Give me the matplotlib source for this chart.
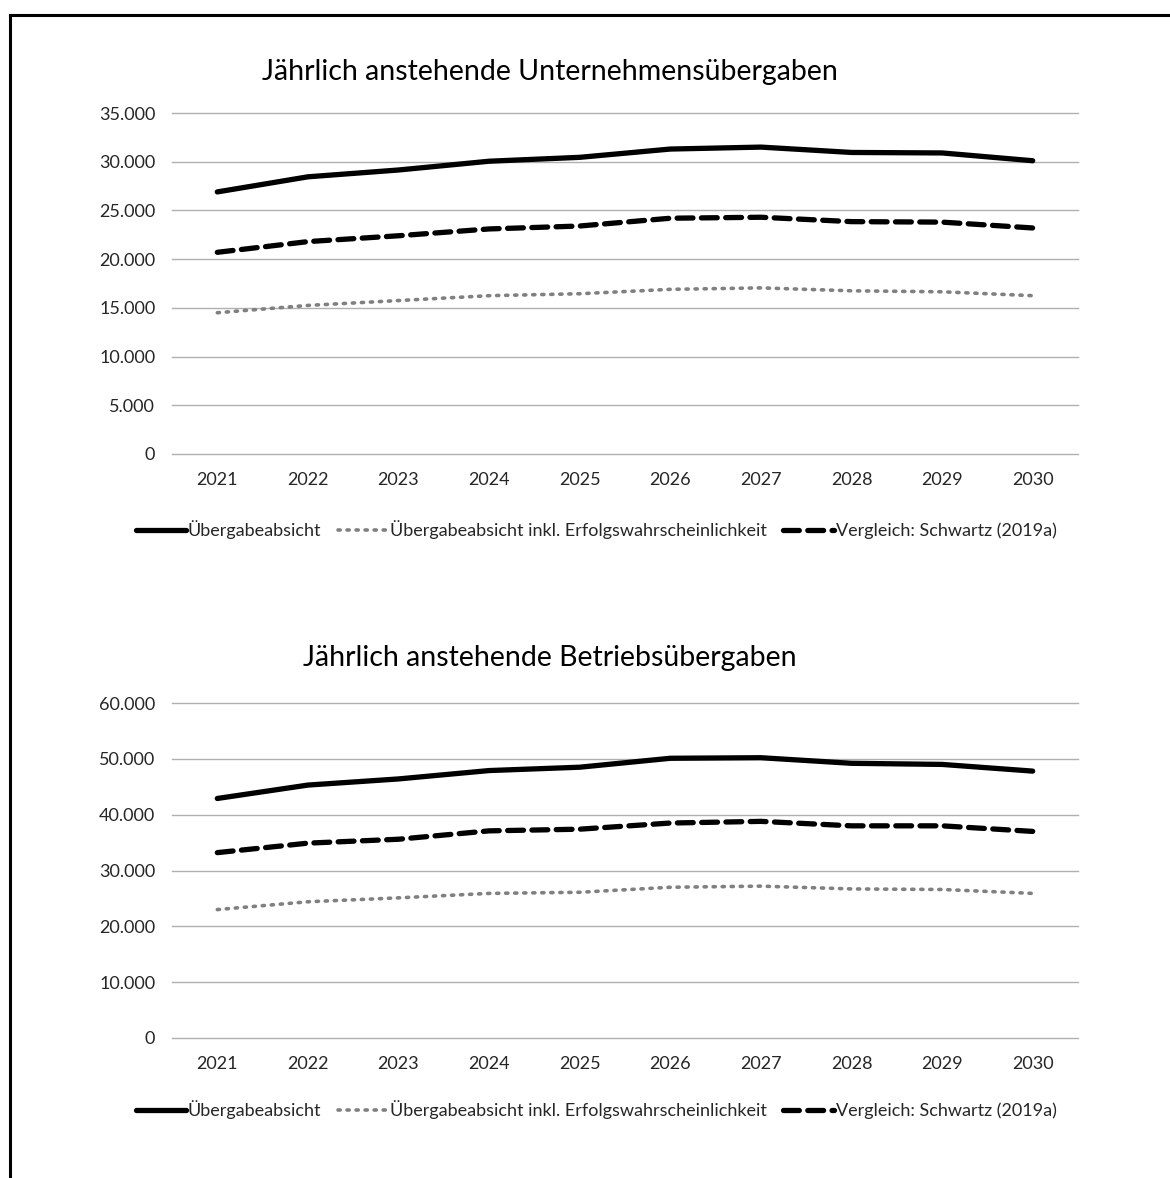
import matplotlib
matplotlib.use("Agg")
import matplotlib.pyplot as plt
from matplotlib.ticker import FuncFormatter, MultipleLocator
from matplotlib.lines import Line2D

plt.rcParams['font.family'] = ['Lato', 'DejaVu Sans']

# Data
years = ['2021', '2022', '2023', '2024', '2025', '2026', '2027', '2028', '2029', '2030']

# Unternehmensübergaben
unt_absicht = [26900, 28450, 29150, 30050, 30450, 31300, 31500, 30950, 30900, 30100]
unt_erfolg = [14500, 15250, 15750, 16250, 16450, 16900, 17050, 16750, 16650, 16250]
unt_schwartz = [20700, 21800, 22400, 23100, 23400, 24200, 24300, 23850, 23800, 23200]

# Betriebsübergaben
bet_absicht = [42900, 45300, 46400, 47900, 48500, 50100, 50200, 49200, 49000, 47800]
bet_erfolg = [23000, 24400, 25100, 25900, 26100, 27000, 27200, 26700, 26600, 25900]
bet_schwartz = [33200, 34900, 35600, 37100, 37400, 38500, 38800, 38000, 38000, 37000]

labels = ['Übergabeabsicht',
          'Übergabeabsicht inkl. Erfolgswahrscheinlichkeit',
          'Vergleich: Schwartz (2019a)']

W, H = 1170, 1178
fig = plt.figure(figsize=(W / 100, H / 100), dpi=100)

# Frame: top and left edge only
fig.add_artist(Line2D([10 / W, 1.0], [1 - 15 / H, 1 - 15 / H], color='black', lw=2.2))
fig.add_artist(Line2D([10 / W, 10 / W], [0, 1 - 15 / H], color='black', lw=2.2))

STYLES = [
    dict(color='black', lw=3.8, ls='-', solid_capstyle='round'),
    dict(color='#808080', lw=2.6, ls=(0, (0.6, 1.9)), dash_capstyle='round'),
    dict(color='black', lw=3.8, ls=(0, (3.0, 1.6)), dash_capstyle='round'),
]

de_fmt = FuncFormatter(lambda v, p: f"{v:,.0f}".replace(',', '.'))
TXT = '#262626'


def draw_panel(ax_px, ymax, ystep, series, title, title_y, legend_y):
    left, top, right, bottom = ax_px
    ax = fig.add_axes([left / W, 1 - bottom / H, (right - left) / W, (bottom - top) / H])
    x = list(range(len(years)))
    for vals, st in zip(series, STYLES):
        ax.plot(x, vals, **st)
    ax.set_xlim(-0.5, len(years) - 0.5)
    ax.set_ylim(0, ymax)
    ax.yaxis.set_major_locator(MultipleLocator(ystep))
    ax.yaxis.set_major_formatter(de_fmt)
    ax.set_xticks(x)
    ax.set_xticklabels(years)
    ax.grid(axis='y', color='#b0b0b0', lw=1.0)
    for gl in ax.get_ygridlines():
        gl.set_clip_on(False)
    ax.set_axisbelow(True)
    for s in ax.spines.values():
        s.set_visible(False)
    ax.tick_params(length=0, labelsize=13, colors=TXT)
    ax.tick_params(axis='y', pad=12)
    ax.tick_params(axis='x', pad=13)
    fig.text(550 / W, 1 - title_y / H, title, ha='center', va='center', fontsize=20.5, color='black')
    handles = [Line2D([0], [0], **st) for st in STYLES]
    fig.legend(handles, labels, loc='center', bbox_to_anchor=(596 / W, 1 - legend_y / H),
               ncol=3, frameon=False, fontsize=13, handlelength=2.8, handletextpad=0.1,
               columnspacing=0.9, labelcolor=TXT)
    return ax


draw_panel((172, 113, 1078, 454), 35000, 5000,
           [unt_absicht, unt_erfolg, unt_schwartz],
           'Jährlich anstehende Unternehmensübergaben', 72, 530)
draw_panel((172, 703, 1078, 1038), 60000, 10000,
           [bet_absicht, bet_erfolg, bet_schwartz],
           'Jährlich anstehende Betriebsübergaben', 658, 1110)

fig.savefig('out.png', dpi=100)
